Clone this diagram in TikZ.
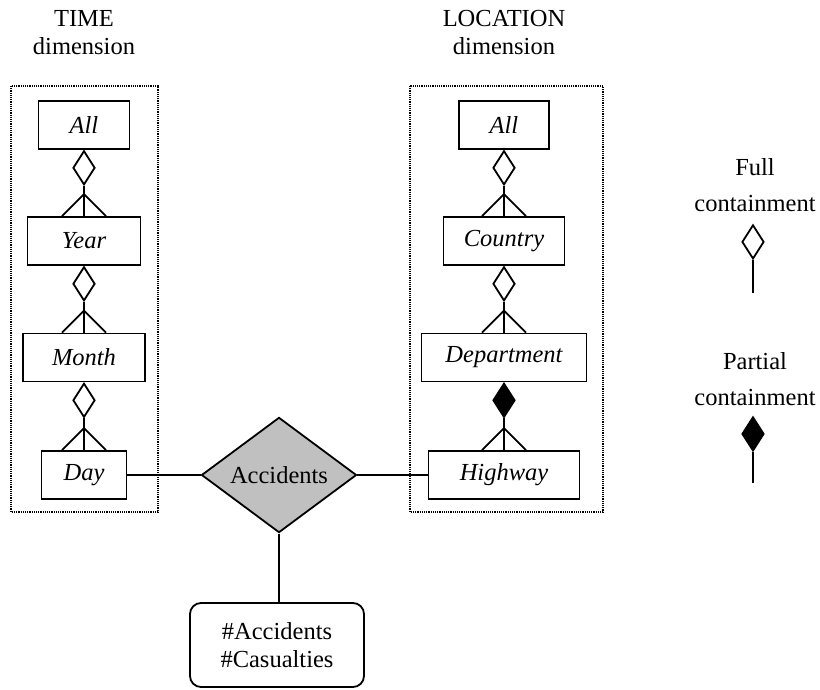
\documentclass[tikz,border=0pt]{standalone}
\usepackage{fontspec}
\setmainfont{Liberation Serif}
\usetikzlibrary{shapes.geometric}
\definecolor{factgray}{HTML}{C0C0C0}
% crow's foot where a roll-up line meets the finer level
\newcommand\crowfoot[1]{\draw ([xshift=-22pt]#1.north) -- ++(22,-22) -- ++(22,22);}
\begin{document}
\begin{tikzpicture}[x=1pt,y=-1pt,line width=1.8pt,
  txt/.style={font=\fontsize{24.5}{28}\selectfont},
  level/.style={draw, rectangle, minimum height=48pt, inner sep=0pt,
    font=\fontsize{24.5}{28}\selectfont\itshape},
  group/.style={line width=1.2pt, dash pattern=on 1.2pt off 1pt},
  rollup/.style={diamond, draw, inner sep=0pt, minimum width=22pt, minimum height=34pt, anchor=north},
  full/.style={rollup, fill=white},
  partial/.style={rollup, fill=black},
  fact/.style={diamond, draw, fill=factgray, inner sep=0pt,
    minimum width=155pt, minimum height=112pt, txt},
  measures/.style={draw, rounded corners=11pt, minimum width=174pt, minimum height=84pt,
    align=center, txt},
  heading/.style={align=center, txt},
  legend/.style={align=center, font=\fontsize{24.5}{36}\selectfont}
]
\useasboundingbox (0,0) rectangle (820,689);

% dimension frames
\draw[group] (11,86) rectangle (158,512);
\draw[group] (410,86) rectangle (603,512);

% headings
\node[heading] (timehead) at (84,33) {TIME\\dimension};
\node[heading] (lochead) at (504,33) {LOCATION\\dimension};

% TIME hierarchy
\node[level, minimum width=91pt]  (tall)   at (84,125)   {All};
\node[level, minimum width=113pt] (tyear)  at (84,241)   {Year};
\node[level, minimum width=122pt] (tmonth) at (84,357.5) {Month};
\node[level, minimum width=85pt]  (tday)   at (84,475)   {Day};

% LOCATION hierarchy
\node[level, minimum width=90pt]  (lall)     at (504,125)   {All};
\node[level, minimum width=121pt] (lcountry) at (504,241)   {Country};
\node[level, minimum width=165pt] (ldept)    at (504,357.5) {Department};
\node[level, minimum width=151pt] (lhigh)    at (504,475)   {Highway};

% roll-up relations
\node[full] (d1) at (tall.south) {};
\draw (d1.south) -- (tyear.north); \crowfoot{tyear}
\node[full] (d2) at (tyear.south) {};
\draw (d2.south) -- (tmonth.north); \crowfoot{tmonth}
\node[full] (d3) at (tmonth.south) {};
\draw (d3.south) -- (tday.north); \crowfoot{tday}

\node[full] (d4) at (lall.south) {};
\draw (d4.south) -- (lcountry.north); \crowfoot{lcountry}
\node[full] (d5) at (lcountry.south) {};
\draw (d5.south) -- (ldept.north); \crowfoot{ldept}
\node[partial] (d6) at (ldept.south) {};
\draw (d6.south) -- (lhigh.north); \crowfoot{lhigh}

% fact and measures
\node[fact] (acc) at (279,475) {Accidents};
\node[measures] (meas) at (277,645) {\#Accidents\\\#Casualties};
\draw (tday.east) -- (acc.west);
\draw (acc.east) -- (lhigh.west);
\draw (acc.south) -- (acc.south |- meas.north);

% legend
\node[legend] (fulltxt) at (755,185) {Full\\containment};
\node[full] (fulldia) at (753,224) {};
\coordinate (fullend) at (753,293);
\draw (fulldia.south) -- (fullend);

\node[legend] (parttxt) at (755,379) {Partial\\containment};
\node[partial] (partdia) at (753,416) {};
\coordinate (partend) at (753,483);
\draw (partdia.south) -- (partend);
\end{tikzpicture}
\end{document}
